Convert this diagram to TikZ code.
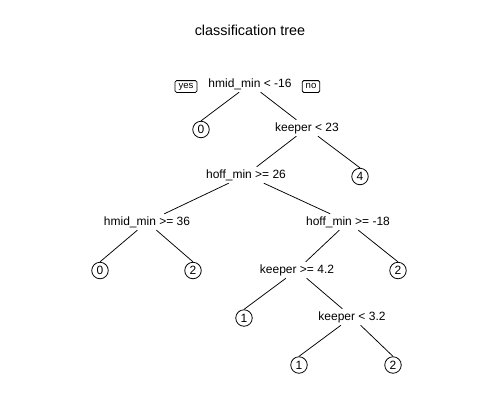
\documentclass[tikz,border=0pt]{standalone}
\usepackage{fontspec}
\setmainfont{Liberation Sans}
\begin{document}
\begin{tikzpicture}[x=1pt,y=-1pt,
  splitnode/.style={inner xsep=3pt, inner ysep=2.5pt, text height=8.6pt, text depth=2.4pt, font=\fontsize{12}{14}\selectfont},
  leafnode/.style={circle, draw, line width=0.8pt, inner sep=0pt, minimum size=16.5pt, font=\fontsize{12}{14}\selectfont},
  hintbox/.style={draw, rounded corners=1.5pt, line width=0.8pt, inner xsep=3.5pt, inner ysep=1.5pt, text height=6.8pt, text depth=2pt, font=\fontsize{9.6}{11}\selectfont},
  branch/.style={line width=0.75pt}]
\useasboundingbox (0,0) rectangle (500,400);
\node[font=\fontsize{14.4}{17}\selectfont] (title) at (250,30) {classification tree};
\node[splitnode] (root) at (250,84) {hmid\_min < -16};
\node[hintbox] (yes) at (186,86.5) {yes};
\node[hintbox] (no) at (311,86.5) {no};
\node[leafnode] (l0a) at (201,129.5) {0};
\node[splitnode] (k23) at (307,128) {keeper < 23};
\node[splitnode] (h26) at (246,175) {hoff\_min >= 26};
\node[leafnode] (l4) at (360,176.5) {4};
\node[splitnode] (h36) at (147,222) {hmid\_min >= 36};
\node[splitnode] (hm18) at (348,222) {hoff\_min >= -18};
\node[leafnode] (l0b) at (100,270.5) {0};
\node[leafnode] (l2a) at (193,270.5) {2};
\node[splitnode] (k42) at (297,270) {keeper >= 4.2};
\node[leafnode] (l2b) at (398,270.5) {2};
\node[leafnode] (l1a) at (244,318) {1};
\node[splitnode] (k32) at (352,317) {keeper < 3.2};
\node[leafnode] (l1b) at (299,365) {1};
\node[leafnode] (l2c) at (393,365) {2};
\draw[branch] (root) -- (l0a.north);
\draw[branch] (root) -- (k23);
\draw[branch] (k23) -- (h26);
\draw[branch] (k23) -- (l4.north);
\draw[branch] (h26) -- (h36);
\draw[branch] (h26) -- (hm18);
\draw[branch] (h36) -- (l0b.north);
\draw[branch] (h36) -- (l2a.north);
\draw[branch] (hm18) -- (k42);
\draw[branch] (hm18) -- (l2b.north);
\draw[branch] (k42) -- (l1a.north);
\draw[branch] (k42) -- (k32);
\draw[branch] (k32) -- (l1b.north);
\draw[branch] (k32) -- (l2c.north);
\end{tikzpicture}
\end{document}
